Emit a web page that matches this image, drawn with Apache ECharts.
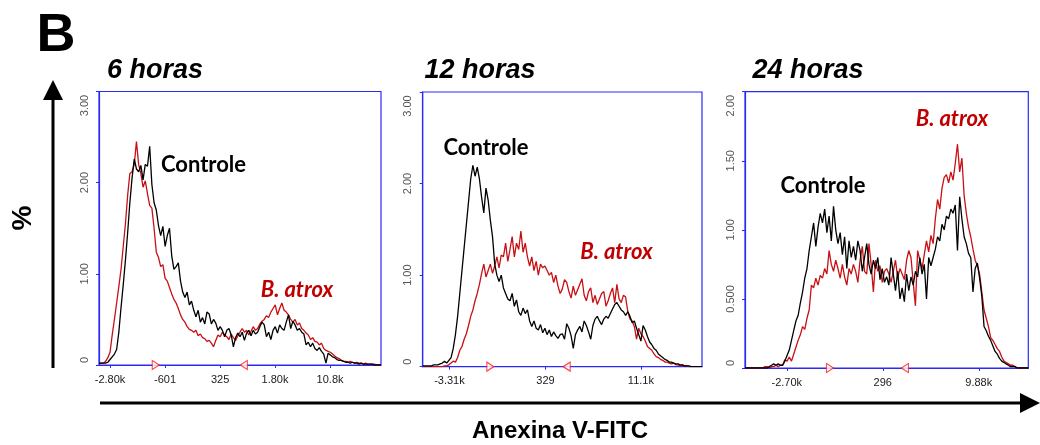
<!DOCTYPE html>
<html>
<head>
<meta charset="utf-8">
<script src="https://cdn.jsdelivr.net/npm/echarts@6/dist/echarts.min.js"></script>
<style>
  html, body { margin: 0; padding: 0; background: #ffffff; }
  #chart { width: 1040px; height: 445px; }
</style>
</head>
<body>
<div id="chart"></div>
<script>
// Annexin V-FITC histograms, % of events per channel (1024 channels, one value every 8 channels)
const CHANNEL_STEP = 8;

const panelTitles = ['6 horas', '12 horas', '24 horas'];
const controlName = 'Controle';
const treatedName = 'B. atrox';

// 6 h
const controle6h = [0.02,0.02,0.02,0.02,0.03,0.06,0.09,0.12,0.17,0.36,
  0.63,0.88,1.15,1.45,1.78,2.05,2.26,2.15,2.12,2.19,
  2.03,2.2,2.18,2.4,1.98,1.78,1.7,1.53,1.42,1.52,
  1.3,1.42,1.5,1.2,1.05,1.08,1.12,0.92,0.8,0.74,
  0.8,0.66,0.7,0.6,0.53,0.6,0.47,0.52,0.45,0.58,
  0.56,0.45,0.5,0.46,0.38,0.42,0.38,0.31,0.38,0.4,
  0.33,0.2,0.3,0.35,0.31,0.36,0.27,0.35,0.38,0.32,
  0.38,0.34,0.36,0.42,0.47,0.44,0.31,0.36,0.28,0.38,
  0.42,0.35,0.44,0.4,0.38,0.47,0.55,0.4,0.48,0.44,
  0.38,0.4,0.36,0.34,0.22,0.25,0.2,0.24,0.18,0.16,
  0.19,0.15,0.12,0.02,0.13,0.11,0.09,0.08,0.06,0.05,
  0.05,0.04,0.03,0.03,0.02,0.03,0.02,0.02,0.01,0.02,
  0.01,0.01,0.01,0.01,0.01,0,0,0,0];
const atrox6h = [0.02,0.02,0.02,0.04,0.08,0.14,0.33,0.5,0.68,0.86,
  1.05,1.3,1.55,1.86,2.1,2.12,2.2,2.45,2.2,2.1,
  1.95,2.02,1.88,1.75,1.72,1.5,1.24,1.18,1.08,1.1,
  0.95,0.92,0.85,0.78,0.72,0.68,0.62,0.55,0.5,0.47,
  0.42,0.39,0.38,0.36,0.38,0.32,0.34,0.3,0.29,0.26,
  0.27,0.24,0.2,0.27,0.33,0.31,0.36,0.33,0.31,0.28,
  0.34,0.3,0.27,0.32,0.36,0.4,0.36,0.38,0.33,0.37,
  0.42,0.38,0.4,0.45,0.48,0.5,0.54,0.52,0.58,0.62,
  0.66,0.55,0.62,0.68,0.6,0.58,0.55,0.5,0.47,0.5,
  0.44,0.46,0.4,0.38,0.35,0.33,0.28,0.3,0.26,0.25,
  0.22,0.24,0.18,0.16,0.15,0.14,0.12,0.1,0.08,0.07,
  0.05,0.04,0.04,0.03,0.04,0.03,0.02,0.03,0.02,0.02,
  0.01,0.02,0.01,0.01,0.01,0.01,0,0,0];

// 12 h
const controle12h = [0.01,0.01,0.01,0.01,0.01,0.02,0.02,0.02,0.03,0.04,
  0.06,0.04,0.07,0.1,0.2,0.35,0.55,0.8,1.05,1.3,
  1.55,1.8,2.05,2.2,2.08,2.18,2.05,1.85,1.68,1.95,
  1.82,1.6,1.42,1.12,1.0,0.93,1.0,0.86,0.8,0.74,
  0.72,0.8,0.66,0.73,0.6,0.56,0.64,0.58,0.62,0.5,
  0.44,0.5,0.42,0.4,0.46,0.37,0.42,0.35,0.4,0.33,
  0.38,0.34,0.31,0.35,0.36,0.3,0.47,0.42,0.34,0.2,
  0.35,0.4,0.44,0.38,0.5,0.45,0.38,0.3,0.45,0.52,
  0.55,0.5,0.46,0.52,0.55,0.53,0.58,0.63,0.68,0.7,
  0.66,0.62,0.6,0.56,0.6,0.55,0.48,0.5,0.42,0.35,
  0.28,0.45,0.4,0.33,0.27,0.24,0.2,0.18,0.14,0.12,
  0.1,0.08,0.07,0.05,0.05,0.04,0.03,0.03,0.02,0.02,
  0.01,0.01,0.01,0,0,0,0,0,0];
const atrox12h = [0,0,0,0,0,0,0,0,0,0,
  0.01,0.01,0.02,0.04,0.06,0.05,0.1,0.18,0.22,0.3,
  0.36,0.45,0.55,0.62,0.72,0.8,0.9,1.02,1.12,0.98,
  1.05,1.12,1.02,1.1,1.2,1.08,1.22,1.2,1.35,1.15,
  1.28,1.42,1.2,1.35,1.28,1.48,1.25,1.35,1.2,1.1,
  1.2,1.05,1.15,1.0,1.12,1.08,1.1,1.05,1.0,1.03,
  0.92,1.0,0.88,0.8,0.85,0.95,0.92,0.82,0.75,0.88,
  0.78,0.84,0.9,0.96,0.78,0.72,0.82,0.86,0.7,0.78,
  0.68,0.74,0.8,0.82,0.66,0.72,0.8,0.86,0.7,0.9,
  0.74,0.7,0.78,0.76,0.6,0.52,0.5,0.44,0.3,0.42,
  0.36,0.33,0.28,0.22,0.2,0.18,0.14,0.11,0.1,0.08,
  0.07,0.05,0.05,0.04,0.03,0.04,0.02,0.02,0.01,0.02,
  0.01,0.01,0,0,0,0,0,0,0];

// 24 h
const controle24h = [0,0,0,0,0,0,0,0,0,0,
  0,0.01,0.02,0.03,0.02,0.03,0.02,0.02,0.05,0.09,
  0.13,0.2,0.27,0.34,0.38,0.47,0.55,0.65,0.72,0.85,
  0.95,1.05,0.88,1.02,1.12,1.05,1.15,0.98,1.1,0.92,
  1.17,1.0,0.9,0.98,0.82,0.95,0.72,0.92,0.8,0.88,
  0.78,0.92,0.85,0.7,0.8,0.9,0.75,0.68,0.78,0.72,
  0.8,0.64,0.72,0.62,0.66,0.6,0.8,0.68,0.56,0.7,
  0.5,0.58,0.48,0.68,0.56,0.66,0.6,0.7,0.66,0.8,
  0.68,0.75,0.5,0.8,0.74,0.8,0.86,0.95,0.92,1.04,
  1.0,1.1,1.08,1.15,1.12,1.18,0.85,1.24,1.08,0.95,
  0.9,0.83,0.8,0.55,0.72,0.76,0.65,0.52,0.3,0.27,
  0.23,0.2,0.16,0.12,0.1,0.07,0.05,0.04,0.03,0.02,
  0.01,0.01,0.01,0,0,0,0,0,0];
const atrox24h = [0,0,0,0,0,0,0,0,0,0.01,
  0.01,0,0.01,0.01,0.02,0.01,0.02,0.02,0.06,0.05,
  0.08,0.05,0.1,0.15,0.2,0.24,0.3,0.28,0.36,0.42,
  0.6,0.58,0.65,0.6,0.67,0.65,0.72,0.68,0.85,0.75,
  0.7,0.78,0.72,0.65,0.75,0.66,0.6,0.72,0.68,0.75,
  0.7,0.62,0.78,0.88,0.7,0.68,0.9,0.75,0.55,0.78,
  0.7,0.74,0.62,0.7,0.72,0.68,0.62,0.7,0.78,0.65,
  0.72,0.68,0.64,0.78,0.85,0.8,0.62,0.45,0.85,0.78,
  0.72,0.82,0.92,0.84,0.96,0.9,1.08,1.22,1.15,1.3,
  1.38,1.4,1.34,1.42,1.36,1.48,1.62,1.42,1.52,1.25,
  1.12,1.02,0.95,0.86,0.78,0.74,0.68,0.55,0.42,0.36,
  0.3,0.22,0.2,0.17,0.14,0.12,0.08,0.05,0.04,0.03,
  0.02,0.02,0.01,0,0,0,0,0,0];

// Axis ticks (channel positions and their scale labels)
const xTickChannels = [[40, 240, 440, 639, 839], [98, 450, 800], [151, 498, 845]];
const xTickLabels = [['-2.80k', '-601', '325', '1.80k', '10.8k'], ['-3.31k', '329', '11.1k'], ['-2.70k', '296', '9.88k']];
const yTickLabels = [['0', '1.00', '2.00', '3.00'], ['0', '1.00', '2.00', '3.00'], ['0', '0.500', '1.00', '1.50', '2.00']];
const yMax = [3, 3, 2];
const yStep = [1, 1, 0.5];

// Region marker channels (start / end)
const gateChannels = [[206, 526], [248, 528], [307, 578]];

const controlSeries = [controle6h, controle12h, controle24h];
const treatedSeries = [atrox6h, atrox12h, atrox24h];

const BLUE = '#2a2af8';
const RED = '#c80f14';
const LABEL_RED = '#c00000';

const grids = [
  { left: 99, top: 91.5, width: 282, height: 273.5 },
  { left: 422.7, top: 92, width: 279.3, height: 274.7 },
  { left: 745, top: 91.7, width: 283.3, height: 276.3 }
];

const toPoints = arr => arr.map((v, i) => [i * CHANNEL_STEP, v]);

const xAxes = grids.map((g, k) => ({
  type: 'value', gridIndex: k, min: 0, max: 1024,
  axisLine: { show: true, onZero: false, lineStyle: { color: BLUE, width: 1.2 } },
  axisTick: { show: true, length: 3, customValues: xTickChannels[k], lineStyle: { color: BLUE } },
  axisLabel: {
    show: true, customValues: xTickChannels[k], margin: 9,
    fontFamily: 'Liberation Sans', fontSize: 11, color: '#1a1a1a',
    formatter: v => xTickLabels[k][xTickChannels[k].indexOf(v)]
  },
  splitLine: { show: false }
}));

// The end labels of the vertical scale sit slightly inside the frame
const yAxes = grids.map((g, k) => ({
  type: 'value', gridIndex: k, min: 0, max: yMax[k], interval: yStep[k],
  axisLine: { show: true, lineStyle: { color: BLUE, width: 1.2 } },
  axisTick: { show: true, length: 3, lineStyle: { color: BLUE } },
  axisLabel: {
    show: true, rotate: 90, margin: 9,
    fontFamily: 'Liberation Sans', fontSize: 11, color: '#555',
    formatter: v => {
      const idx = Math.round(v / yStep[k]);
      const s = yTickLabels[k][idx];
      if (idx === yTickLabels[k].length - 1) return '{top|' + s + '}';
      if (idx === 0) return '{bot|' + s + '}';
      return s;
    },
    rich: {
      top: { fontFamily: 'Liberation Sans', fontSize: 11, color: '#555', padding: [0, 28, 0, 0] },
      bot: { fontFamily: 'Liberation Sans', fontSize: 11, color: '#555', padding: [0, 0, 0, 10] }
    }
  },
  splitLine: { show: false }
}));

const series = [];
grids.forEach((g, k) => {
  series.push({
    type: 'line', name: treatedName, xAxisIndex: k, yAxisIndex: k,
    data: toPoints(treatedSeries[k]), showSymbol: false,
    lineStyle: { color: RED, width: 1.3 }, z: 2, silent: true
  });
  series.push({
    type: 'line', name: controlName, xAxisIndex: k, yAxisIndex: k,
    data: toPoints(controlSeries[k]), showSymbol: false,
    lineStyle: { color: '#000', width: 1.3 }, z: 3, silent: true
  });
  series.push({
    type: 'scatter', xAxisIndex: k, yAxisIndex: k, clip: false, silent: true,
    data: gateChannels[k].map((c, j) => ({ value: [c, 0], symbolRotate: j === 0 ? -90 : 90 })),
    symbol: 'triangle', symbolSize: [9, 7],
    itemStyle: { color: '#fff', borderColor: '#ff1a1a', borderWidth: 1.2 }, z: 5
  });
});

// Panel texts and the outer arrows
const txt = (text, x, y, font, fill, rotation) => ({
  type: 'text', x, y, rotation: rotation || 0,
  style: { text, font, fill, align: 'center', verticalAlign: 'middle' }
});

const titleX = [155, 480, 808];
const controlPos = [[203.5, 165], [486, 148], [823, 185.5]];
const treatedPos = [[297, 289.5], [616.5, 251.5], [952, 118.7]];

const graphic = [
  txt('B', 56, 36, 'bold 54px "Liberation Sans"', '#000'),
  txt('%', 23, 218, 'bold 28px "Liberation Sans"', '#000', Math.PI / 2),
  txt('Anexina V-FITC', 560, 431, 'bold 24px "Liberation Sans"', '#000'),
  { type: 'line', shape: { x1: 53, y1: 368, x2: 53, y2: 96 }, style: { stroke: '#000', lineWidth: 3 } },
  { type: 'polygon', shape: { points: [[53, 80], [43, 100], [63, 100]] }, style: { fill: '#000' } },
  { type: 'line', shape: { x1: 100, y1: 403, x2: 1024, y2: 403 }, style: { stroke: '#000', lineWidth: 3 } },
  { type: 'polygon', shape: { points: [[1040, 403], [1020, 393], [1020, 413]] }, style: { fill: '#000' } }
];
panelTitles.forEach((t, k) => {
  graphic.push(txt(t, titleX[k], 71, 'italic bold 27px "Liberation Sans"', '#000'));
  graphic.push(txt(controlName, controlPos[k][0], controlPos[k][1], 'bold 22px Lato', '#000'));
  graphic.push(txt(treatedName, treatedPos[k][0], treatedPos[k][1], 'italic bold 22px Lato', LABEL_RED));
});

const chart = echarts.init(document.getElementById('chart'), null, { renderer: 'canvas' });
chart.setOption({
  animation: false,
  backgroundColor: '#fff',
  grid: grids.map(g => Object.assign({ show: true, borderColor: BLUE, borderWidth: 1.2, backgroundColor: 'transparent' }, g)),
  xAxis: xAxes,
  yAxis: yAxes,
  series,
  graphic
});
</script>
</body>
</html>
